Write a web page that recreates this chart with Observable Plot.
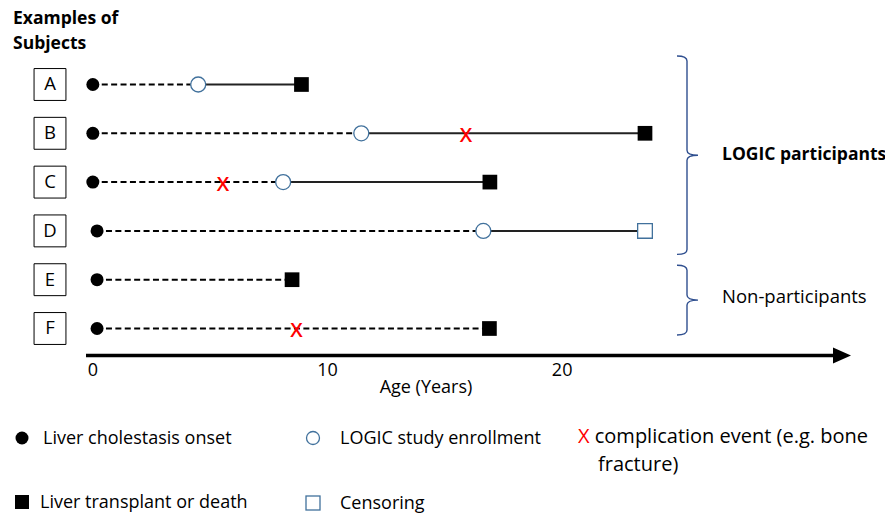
<!DOCTYPE html>
<html><head><meta charset="utf-8">
<script src="https://cdn.jsdelivr.net/npm/d3@7"></script>
<script src="https://cdn.jsdelivr.net/npm/@observablehq/plot@0.6"></script>
<style>
body{margin:0;background:#fff;font-family:"Open Sans",Lato,sans-serif;color:#000}
#wrap{position:relative;width:885px;height:516px;overflow:hidden}
#chart{position:absolute;left:0;top:0}
#title{position:absolute;left:13px;top:5px;font-weight:bold;font-size:17.5px;line-height:25px}
.leg{position:absolute;font-size:18px;white-space:nowrap;line-height:20px}
.sym{position:absolute;overflow:visible}
</style></head><body>
<div id="wrap"><div id="chart"></div><div id="title">Examples of<br>Subjects</div><div id="legend"></div></div>
<script>
// ---- data ----
const subjects = ["A", "B", "C", "D", "E", "F"];
const onsetAge = [0, 0, 0, 0.18, 0.18, 0.18];
const enrollAge = [4.49, 11.44, 8.11, 16.64, null, null];
const endAge = [8.89, 23.53, 16.92, 23.53, 8.49, 16.9];
const endType = ["transplant", "transplant", "transplant", "censored", "transplant", "transplant"];
const complicationAge = [null, 15.9, 5.55, null, null, 8.68];
const ageTicks = [0, 10, 20];
const ageRange = [-0.27, 32.33];
const axisLabel = "Age (Years)";
const groupLabels = ["LOGIC participants", "Non-participants"];
const groupFirst = ["A", "E"];
const groupLast = ["D", "F"];
const legendLabels = ["Liver cholestasis onset", "LOGIC study enrollment", "complication event (e.g. bone", "fracture)", "Liver transplant or death", "Censoring"];

const rows = subjects.map((s, i) => ({
  subject: s, onset: onsetAge[i], enroll: enrollAge[i], end: endAge[i],
  type: endType[i], comp: complicationAge[i]
}));

const BLUE = "#41719C";
const FONT = "'Open Sans', Lato, sans-serif";

function ageArrow(index, scales, values, dims) {
  const g = d3.create("svg:g");
  const y0 = dims.height - dims.marginBottom;
  const x0 = scales.x(ageRange[0]), x1 = scales.x(ageRange[1]);
  g.append("line").attr("x1", x0).attr("x2", x1 - 12).attr("y1", y0).attr("y2", y0)
    .attr("stroke", "black").attr("stroke-width", 3.5);
  g.append("path").attr("d", `M${x1},${y0}L${x1 - 18},${y0 - 8}L${x1 - 18},${y0 + 8}Z`).attr("fill", "black");
  return g.node();
}

function braces(index, scales, values, dims) {
  const g = d3.create("svg:g");
  const bx = dims.width - dims.marginRight - 164;
  groupLabels.forEach((label, i) => {
    const top = scales.y(groupFirst[i]) - (i === 0 ? 28 : 14);
    const bot = scales.y(groupLast[i]) + (i === 0 ? 24 : 7);
    const mid = (top + bot) / 2;
    const r = 5;
    const d = `M${bx - 10},${top}Q${bx},${top} ${bx},${top + r}L${bx},${mid - r}Q${bx},${mid} ${bx + 11},${mid}` +
      `Q${bx},${mid} ${bx},${mid + r}L${bx},${bot - r}Q${bx},${bot} ${bx - 10},${bot}`;
    g.append("path").attr("d", d).attr("fill", "none").attr("stroke", "#2F4F8F").attr("stroke-width", 1.4);
    g.append("text").attr("x", bx + 35).attr("y", mid - (i === 0 ? 1 : 4)).attr("dy", "0.35em")
      .attr("text-anchor", "start")
      .attr("font-size", i === 0 ? 17.5 : 18.5).attr("font-weight", i === 0 ? "bold" : "normal")
      .text(label);
  });
  return g.node();
}

const plot = Plot.plot({
  width: 885, height: 410,
  marginLeft: 86, marginRight: 34, marginTop: 56.5, marginBottom: 54.5,
  style: {fontFamily: FONT, fontSize: "18px", color: "black", background: "white"},
  x: {domain: ageRange},
  y: {type: "point", domain: subjects, padding: 0.5635, round: false, axis: null},
  marks: [
    Plot.ruleY(rows, {y: "subject", x1: "onset", x2: d => d.enroll ?? d.end, stroke: "#000", strokeWidth: 2, strokeDasharray: "6,3.4"}),
    Plot.ruleY(rows.filter(d => d.enroll != null), {y: "subject", x1: "enroll", x2: "end", stroke: "#222", strokeWidth: 2}),
    Plot.dot(rows, {x: "onset", y: "subject", r: 6.5, fill: "black"}),
    Plot.dot(rows.filter(d => d.enroll != null), {x: "enroll", y: "subject", r: 7.5, fill: "white", stroke: BLUE, strokeWidth: 1.3}),
    Plot.dot(rows.filter(d => d.type === "transplant"), {x: "end", y: "subject", symbol: "square", r: 8.3, fill: "black"}),
    Plot.dot(rows.filter(d => d.type === "censored"), {x: "end", y: "subject", symbol: "square", r: 8.3, fill: "white", stroke: BLUE, strokeWidth: 1.3}),
    Plot.text(rows.filter(d => d.comp != null), {x: "comp", y: "subject", text: () => "X", fill: "red", fontSize: 20, fontWeight: 600, dy: 2}),
    Plot.dot(subjects, {y: d => d, frameAnchor: "left", dx: -36.5, symbol: "square", r: 18, fill: "white", stroke: "black", strokeWidth: 1}),
    Plot.text(subjects, {y: d => d, text: d => d, frameAnchor: "left", dx: -36.5, fontSize: 18.5, textAnchor: "middle"}),
    Plot.axisX({ticks: ageTicks, tickSize: 0, tickPadding: 7.7, label: null, fontSize: 18}),
    Plot.text([axisLabel], {text: d => d, frameAnchor: "bottom", dx: -43, dy: 36.5, fontSize: 18}),
    ageArrow,
    braces
  ]
});
document.getElementById("chart").appendChild(plot);

// ---- legend (HTML below the SVG) ----
const leg = document.getElementById("legend");
function sym(svgInner, left, top, w, h) {
  const s = document.createElementNS("http://www.w3.org/2000/svg", "svg");
  s.setAttribute("class", "sym");
  s.setAttribute("width", w); s.setAttribute("height", h);
  s.style.left = left + "px"; s.style.top = top + "px";
  s.innerHTML = svgInner;
  leg.appendChild(s);
}
function txt(t, left, top, extra) {
  const d = document.createElement("div");
  d.className = "leg"; d.style.left = left + "px"; d.style.top = top + "px";
  if (extra) Object.assign(d.style, extra);
  d.innerHTML = t;
  leg.appendChild(d);
}
sym(`<circle cx="8" cy="8" r="6.5" fill="black"/>`, 14, 430, 16, 16);
txt(legendLabels[0], 43, 427);
sym(`<circle cx="8" cy="8" r="6.5" fill="white" stroke="${BLUE}" stroke-width="1.3"/>`, 305, 430, 16, 16);
txt(legendLabels[1], 340, 427);
txt(`<span style="color:red">X</span> ${legendLabels[2]}`, 578, 425, {fontSize: "20px", lineHeight: "22px"});
txt(legendLabels[3], 598, 453, {fontSize: "20px", lineHeight: "22px"});
sym(`<rect x="1" y="1" width="14" height="14" fill="black"/>`, 14, 494, 16, 16);
txt(legendLabels[4], 40, 491);
sym(`<rect x="1" y="1" width="14" height="14" fill="white" stroke="${BLUE}" stroke-width="1.3"/>`, 305, 495, 16, 16);
txt(legendLabels[5], 340, 492);
</script>
</body></html>
